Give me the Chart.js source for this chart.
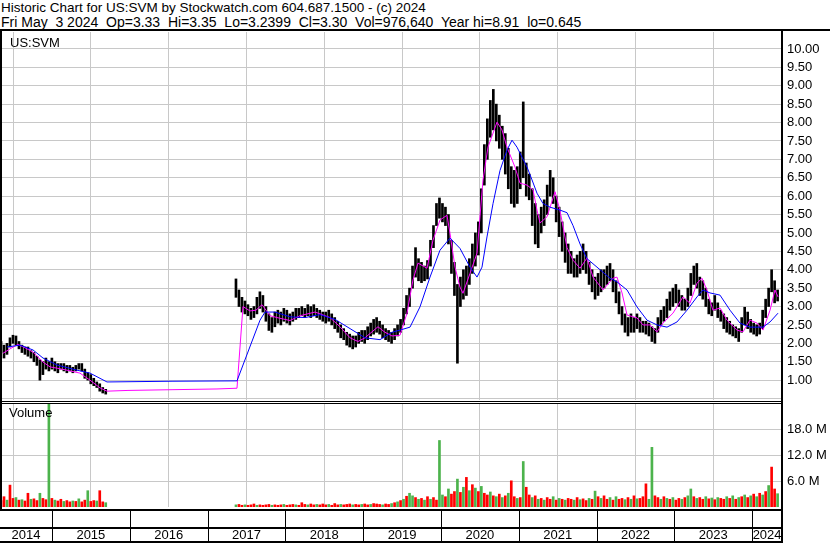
<!DOCTYPE html>
<html lang="en">
<head>
<meta charset="UTF-8">
<title>Historic Chart for US:SVM</title>
<script src="https://cdn.jsdelivr.net/npm/chart.js@4"></script>
<style>
    body { margin: 0; background: #fff; font-family: Arial, "Liberation Sans", sans-serif; color: #000; }
    #page { position: relative; width: 830px; height: 543px; overflow: hidden; }
    .hdr { position: absolute; left: 1px; font-size: 13.5px; line-height: 14px; white-space: pre; }
    .lbl { position: absolute; font-size: 13px; line-height: 13px; white-space: pre; }
    .rule { position: absolute; background: #000; }
    canvas { position: absolute; }
</style>
</head>
<body>
<div id="page">
    <div class="hdr" style="top:1px">Historic Chart for US:SVM by Stockwatch.com 604.687.1500 - (c) 2024</div>
    <div class="hdr" style="top:15px;font-size:14px">Fri May  3 2024  Op=3.33  Hi=3.35  Lo=3.2399  Cl=3.30  Vol=976,640  Year hi=8.91  lo=0.645</div>

    <canvas id="priceChart" width="830" height="368" style="left:0;top:32px"></canvas>
    <canvas id="volumeChart" width="830" height="139" style="left:0;top:404px"></canvas>

    <div class="rule" style="left:0;top:29px;width:830px;height:2px"></div>
    <div class="rule" style="left:0;top:31px;width:2px;height:478px"></div>
    <div class="rule" style="left:781px;top:31px;width:2px;height:512px"></div>
    <div class="rule" style="left:0;top:401px;width:782px;height:1px"></div>
    <div class="rule" style="left:0;top:403px;width:782px;height:1px"></div>

    <div class="lbl" style="left:10px;top:36px">US:SVM</div>
    <div class="lbl" style="left:9px;top:406px">Volume</div>
</div>

<script>
    // ---- axes ----
    const xStart = 2014.332;   // left edge of the plot (decimal year)
    const xEnd = 2024.383;     // right edge
    const yearBounds = [2015, 2016, 2017, 2018, 2019, 2020, 2021, 2022, 2023, 2024];
    const yearLabels = ['2014', '2015', '2016', '2017', '2018', '2019', '2020', '2021', '2022', '2023', '2024'];
    const priceTicks = [0.5, 1.0, 1.5, 2.0, 2.5, 3.0, 3.5, 4.0, 4.5, 5.0, 5.5, 6.0, 6.5, 7.0, 7.5, 8.0, 8.5, 9.0, 9.5, 10.0];
    const volumeTicks = [6, 12, 18];   // millions

    // ---- fortnightly bars: [low, high] ----
    const seg1Start = 2014.345;   // mid 2014 .. mid 2015
    const seg2Start = 2017.365;   // 2017 .. May 2024
    const barStep = 1 / 26;

    const seg1Range = [
        [1.75,2.05],[1.6,1.95],[1.7,2.0],[1.9,2.15],[2.0,2.22],[1.95,2.2],[1.85,2.05],[1.75,1.95],[1.7,1.9],[1.65,1.9],
        [1.6,1.8],[1.5,1.75],[1.4,1.65],[1.0,1.55],[1.15,1.5],[1.3,1.6],[1.25,1.5],[1.3,1.6],[1.25,1.5],[1.2,1.45],
        [1.3,1.45],[1.25,1.45],[1.2,1.4],[1.25,1.4],[1.2,1.35],[1.25,1.4],[1.3,1.45],[1.25,1.45],[1.05,1.3],[1.0,1.2],
        [0.9,1.15],[0.85,1.05],[0.8,0.95],[0.7,0.9],[0.65,0.8],[0.62,0.75]
    ];
    const seg2Range = [
        [3.25,3.75],[3.0,3.45],[2.85,3.25],[2.8,3.15],[2.75,3.05],[2.65,2.95],[2.7,3.0],[2.8,3.25],[2.95,3.4],[2.85,3.3],
        [2.6,3.0],[2.35,2.8],[2.3,2.7],[2.45,2.85],[2.55,2.9],[2.5,2.85],[2.6,2.95],[2.55,2.9],[2.5,2.8],[2.6,2.85],
        [2.65,2.95],[2.7,2.95],[2.75,3.0],[2.7,2.95],[2.75,3.05],[2.7,3.0],[2.75,3.05],[2.7,2.95],[2.65,2.9],[2.6,2.85],
        [2.55,2.85],[2.6,2.9],[2.5,2.8],[2.4,2.7],[2.3,2.6],[2.15,2.5],[2.1,2.4],[1.95,2.3],[1.9,2.25],[1.85,2.2],
        [1.9,2.2],[2.0,2.3],[2.05,2.35],[2.0,2.35],[2.1,2.45],[2.2,2.55],[2.25,2.65],[2.3,2.7],[2.25,2.6],[2.15,2.5],
        [2.1,2.4],[2.05,2.35],[2.0,2.3],[2.1,2.4],[2.2,2.5],[2.3,2.65],[2.5,2.95],[2.8,3.3],[3.0,3.5],[3.5,4.1],
        [3.8,4.6],[3.7,4.3],[3.65,4.2],[3.7,4.1],[3.75,4.25],[4.1,4.8],[4.6,5.2],[5.2,5.8],[5.4,5.95],[5.3,5.8],
        [5.2,5.7],[4.7,5.5],[3.9,4.8],[3.3,4.2],[1.46,3.6],[3.0,3.8],[3.2,4.0],[3.3,4.1],[3.6,4.3],[3.9,4.7],
        [4.1,5.0],[4.4,5.3],[5.0,6.2],[6.3,7.4],[7.0,8.1],[7.6,8.6],[7.8,8.9],[7.5,8.5],[7.3,8.2],[7.0,7.9],
        [6.6,7.7],[6.2,7.3],[5.8,6.8],[5.7,6.7],[5.8,6.8],[6.2,7.2],[6.5,8.56],[6.0,6.9],[5.9,6.6],[5.2,6.2],
        [4.7,5.8],[4.6,5.5],[5.0,5.7],[5.2,5.9],[5.5,6.3],[6.0,6.7],[5.8,6.5],[5.3,6.0],[4.9,5.7],[4.5,5.3],
        [4.2,5.0],[3.9,4.7],[3.9,4.5],[3.8,4.3],[3.8,4.4],[3.9,4.5],[4.0,4.7],[3.9,4.5],[3.6,4.2],[3.4,4.0],
        [3.2,3.8],[3.3,3.9],[3.4,4.0],[3.5,4.0],[3.6,4.1],[3.7,4.17],[3.4,4.0],[3.1,3.7],[2.8,3.4],[2.5,3.0],
        [2.3,2.8],[2.2,2.7],[2.3,2.8],[2.3,2.7],[2.4,2.8],[2.3,2.7],[2.3,2.6],[2.25,2.6],[2.2,2.55],[2.05,2.45],
        [2.0,2.4],[2.3,2.7],[2.5,2.9],[2.6,3.0],[2.7,3.2],[2.9,3.4],[3.0,3.5],[3.1,3.6],[3.0,3.45],[2.9,3.3],
        [2.9,3.2],[3.0,3.5],[3.3,3.9],[3.6,4.1],[3.5,4.17],[3.3,3.8],[3.2,3.7],[3.0,3.5],[2.8,3.2],[2.75,3.1],
        [2.9,3.3],[2.7,3.1],[2.6,2.9],[2.4,2.8],[2.3,2.7],[2.25,2.6],[2.2,2.5],[2.15,2.45],[2.05,2.4],[2.3,2.7],
        [2.5,2.98],[2.4,2.85],[2.3,2.65],[2.25,2.55],[2.2,2.5],[2.25,2.55],[2.4,2.9],[2.7,3.2],[3.0,3.5],[3.4,4.0],
        [3.1,3.7],[3.15,3.45]
    ];

    // ---- volume, millions of shares, one value per bar ----
    const seg1Volume = [
        1.5, 2.4, 1.6, 5.1, 2.0, 2.2, 1.6, 1.7, 1.4, 3.2, 1.8, 1.9, 1.5, 3.2, 2.0, 1.7, 30, 2.0,
        1.6, 1.4, 1.8, 1.3, 1.5, 1.2, 1.4, 1.3, 1.9, 1.2, 1.6, 3.8, 1.3, 1.5, 1.4, 3.8, 1.2, 1.0
    ];
    const seg2Volume = [
        0.5, 0.6, 0.4, 0.5, 0.4, 0.5, 0.7, 0.4, 0.5,
        0.4, 0.5, 0.6, 0.4, 0.5, 0.4, 0.5, 0.6, 0.4, 0.5, 0.6, 0.5, 0.4,
        1.0, 0.6, 0.5, 0.7, 0.5, 0.6, 0.5, 0.7, 0.5, 0.6, 0.4, 0.8, 0.5, 0.6,
        0.5, 0.6, 0.7, 0.5, 0.6, 0.5, 0.6, 0.7, 0.5, 0.6, 0.8, 0.7, 0.6, 0.5, 0.7, 0.6, 0.8, 1.0, 1.2,
        1.5, 1.8, 2.5, 3.2, 2.6, 2.2, 1.8, 2.0, 1.6, 2.4, 1.8, 2.2, 1.6, 15.5,
        2.8, 2.4, 4.2, 3.0, 3.6, 6.5, 3.4, 4.6, 6.9, 3.8, 5.2, 4.4, 3.6,
        4.8, 3.2, 2.8, 3.5, 2.6, 2.4, 3.0, 2.2, 2.6, 3.2, 6.1, 2.4, 2.0, 2.2,
        10.6, 4.6, 2.8, 2.2, 2.6, 1.8, 2.0, 1.6, 2.2, 1.8, 2.4, 1.6, 2.0, 1.8,
        1.6, 2.0, 1.8, 1.6, 2.2, 1.7, 1.9, 1.5, 2.0, 1.8, 3.7, 2.4,
        2.0, 2.6, 1.8, 2.2, 1.6, 2.4, 1.8, 2.0, 1.7, 2.2, 1.8, 2.6, 1.9, 2.0, 2.4, 5.4, 1.8,
        13.9, 2.6, 2.2, 1.8, 2.4, 2.0, 1.8, 2.2, 1.6, 2.0, 1.8, 2.2, 2.6,
        4.2, 2.4, 2.0, 2.2, 1.8, 2.4, 1.9, 2.1, 1.7, 2.2, 2.0, 1.8, 2.4,
        2.0, 2.6, 1.8, 2.2, 2.4, 2.8, 2.2, 2.6, 3.0, 2.4, 3.2, 2.8, 3.6, 5.0, 9.3, 4.2, 3.1
    ];
    // volume bar colour read per bar: g = up day, r = down day
    const seg1Dir = 'rrgrrg' + 'rgrrgr' + 'rgrrgr' + 'grrgrr' + 'grgrrg' + 'rrgrrg';
    const seg2Dir =
        'grrgrrrgrr' + 'rrgrrrgrrr' + 'grrrgrrgrr' + 'rgrrrgrrrg' + 'rrgrrgrrrg' +
        'rrgrgrgrgg' + 'rgrgrgrrgg' + 'rgrrgrgrgr' + 'grgrrgrgrg' + 'rgrrgrgrrg' +
        'rgrgrrgrgr' + 'grrgrgrrgr' + 'grgrrgrgrr' + 'grgrgrrrgg' + 'rrgrgrgrrg' +
        'rggrgrrgrg' + 'rgrrgrgrgr' + 'grgrgrgrgr' + 'rg';

    // ---- moving averages (short = magenta, long = blue) ----
    const shortMaDates = [
        2014.371,2014.461,2014.563,2014.653,2014.756,2014.885,2014.975,2015.077,2015.193,2015.360,
        2015.489,2015.617,2015.707,2015.977,2016.543,2017.121,2017.378,2017.455,2017.545,2017.622,
        2017.700,2017.802,2017.931,2018.059,2018.188,2018.381,2018.573,2018.702,2018.831,2018.933,
        2019.023,2019.190,2019.280,2019.370,2019.473,2019.563,2019.640,2019.705,2019.820,2019.897,
        2019.987,2020.077,2020.116,2020.180,2020.244,2020.283,2020.373,2020.463,2020.540,2020.604,
        2020.720,2020.784,2020.848,2020.951,2021.016,2021.106,2021.183,2021.234,2021.273,2021.363,
        2021.466,2021.530,2021.620,2021.697,2021.787,2021.877,2021.954,2022.082,2022.211,2022.262,
        2022.327,2022.391,2022.519,2022.596,2022.686,2022.776,2022.853,2022.982,2023.110,2023.200,
        2023.290,2023.354,2023.418,2023.495,2023.586,2023.676,2023.804,2023.881,2023.971,2024.062,
        2024.139,2024.229,2024.293,2024.332
    ];
    const shortMaValues = [
        1.73,1.85,1.97,1.88,1.76,1.49,1.36,1.32,1.27,1.19,
        1.0,0.79,0.70,0.72,0.74,0.76,0.78,3.0,2.88,2.9,
        3.05,2.75,2.68,2.62,2.75,2.85,2.7,2.45,2.15,2.05,
        2.15,2.45,2.3,2.2,2.22,2.82,3.72,4.18,4.04,4.8,
        5.35,5.48,4.99,4.07,3.53,3.36,3.9,4.45,6.44,7.33,
        8.01,7.8,7.33,6.79,6.35,6.3,6.17,5.62,5.27,5.44,
        6.12,5.6,4.6,4.26,4.04,4.32,3.8,3.45,3.77,3.8,
        3.37,2.77,2.69,2.5,2.5,2.31,2.55,2.82,3.26,3.09,
        3.63,3.77,3.45,2.9,2.96,2.63,2.36,2.31,2.63,2.55,
        2.36,2.9,3.45,3.26
    ];
    const longMaDates = [
        2014.422,2014.589,2014.756,2014.885,2015.065,2015.322,2015.489,2015.707,2016.543,2017.378,
        2017.674,2017.738,2017.867,2018.059,2018.252,2018.445,2018.638,2018.831,2019.023,2019.216,
        2019.370,2019.473,2019.602,2019.730,2019.859,2019.987,2020.116,2020.244,2020.373,2020.463,
        2020.527,2020.591,2020.669,2020.759,2020.848,2020.913,2020.977,2021.041,2021.106,2021.170,
        2021.234,2021.311,2021.401,2021.530,2021.620,2021.697,2021.787,2021.877,2022.044,2022.172,
        2022.262,2022.391,2022.519,2022.648,2022.776,2022.905,2023.033,2023.162,2023.290,2023.367,
        2023.457,2023.586,2023.715,2023.843,2023.971,2024.139,2024.229,2024.332
    ];
    const longMaValues = [
        1.9,1.95,1.82,1.6,1.41,1.27,1.19,0.95,0.97,0.98,
        2.63,2.85,2.85,2.72,2.7,2.78,2.65,2.4,2.15,2.1,
        2.3,2.36,2.44,2.99,3.8,4.53,4.86,4.58,4.07,3.8,
        4.07,4.89,5.8,6.7,7.25,7.52,7.33,7.06,6.79,6.44,
        6.08,5.8,5.7,5.62,5.55,5.2,4.7,4.3,4.0,3.77,
        3.67,3.45,2.99,2.63,2.5,2.44,2.58,2.9,3.26,3.45,
        3.37,3.31,2.9,2.55,2.44,2.44,2.58,2.82
    ];

    // ---- build ----
    const barDates = seg1Range.map((_, i) => seg1Start + i * barStep)
        .concat(seg2Range.map((_, i) => seg2Start + i * barStep));
    const priceRange = seg1Range.concat(seg2Range);
    const volume = seg1Volume.concat(seg2Volume);
    const volDir = (seg1Dir + seg2Dir).split('');

    const upColor = '#4cb34c';
    const downColor = '#ff0000';
    const volColors = volDir.map(c => c === 'g' ? upColor : downColor);

    Chart.defaults.font.family = 'Arial, "Liberation Sans", sans-serif';
    Chart.defaults.font.size = 13;
    Chart.defaults.color = '#000';

    const gridGrey = '#c8c8c8';

    const xAxis = {
        type: 'linear',
        min: xStart,
        max: xEnd,
        offset: false,
        afterBuildTicks: s => { s.ticks = yearBounds.map(v => ({ value: v })); },
        afterFit: s => { s.height = 0; s.paddingLeft = 0; s.paddingRight = 0; },
        ticks: { display: false, autoSkip: false },
        grid: { color: gridGrey, drawTicks: false },
        border: { display: false }
    };

    // right-hand value axis with a fixed 48px column
    function rightAxis(min, max, ticks, fmt) {
        return {
            position: 'right',
            min: min,
            max: max,
            afterBuildTicks: s => { s.ticks = ticks.map(v => ({ value: v })); },
            afterFit: s => { s.width = 48; s.paddingTop = 0; s.paddingBottom = 0; },
            ticks: { padding: 5, autoSkip: false, callback: fmt },
            grid: { color: gridGrey, drawTicks: false },
            border: { display: false }
        };
    }

    new Chart(document.getElementById('priceChart'), {
        type: 'bar',
        data: {
            datasets: [{
                label: 'Range',
                data: barDates.map((d, i) => ({ x: d, y: priceRange[i] })),
                backgroundColor: '#000',
                borderWidth: 0,
                barThickness: 2,
                order: 3
            }, {
                type: 'line',
                label: 'Short MA',
                data: shortMaDates.map((d, i) => ({ x: d, y: shortMaValues[i] })),
                borderColor: '#ff00ff',
                borderWidth: 1,
                pointRadius: 0,
                tension: 0,
                order: 2
            }, {
                type: 'line',
                label: 'Long MA',
                data: longMaDates.map((d, i) => ({ x: d, y: longMaValues[i] })),
                borderColor: '#0000ff',
                borderWidth: 1,
                pointRadius: 0,
                tension: 0,
                order: 1
            }]
        },
        options: {
            responsive: false,
            animation: false,
            layout: { padding: 0, autoPadding: false },
            plugins: { legend: { display: false }, tooltip: { enabled: false } },
            scales: {
                x: xAxis,
                y: rightAxis(0.46, 10.46, priceTicks, v => v < 1 ? '' : v.toFixed(2))
            }
        }
    });

    // year strip under the volume panel
    const yearStrip = {
        id: 'yearStrip',
        afterDraw(chart) {
            const { ctx, chartArea } = chart;
            const x = chart.scales.x;
            const y0 = chartArea.bottom;
            const w = chartArea.right;
            ctx.save();
            ctx.fillStyle = '#000';
            ctx.fillRect(0, y0 + 2, w, 2);
            ctx.fillRect(0, y0 + 20, w, 2);
            ctx.fillRect(0, y0 + 34, w, 2);
            yearBounds.forEach(v => {
                ctx.fillRect(Math.round(x.getPixelForValue(v)), y0 + 4, 1, 30);
            });
            ctx.font = '13px Arial, "Liberation Sans", sans-serif';
            ctx.textAlign = 'center';
            ctx.textBaseline = 'middle';
            const edges = [xStart].concat(yearBounds, [xEnd]);
            yearLabels.forEach((lab, i) => {
                const a = x.getPixelForValue(edges[i]);
                const b = x.getPixelForValue(edges[i + 1]);
                ctx.fillText(lab, (a + b) / 2, y0 + 28);
            });
            ctx.restore();
        }
    };

    new Chart(document.getElementById('volumeChart'), {
        type: 'bar',
        data: {
            datasets: [{
                label: 'Volume',
                data: barDates.map((d, i) => ({ x: d, y: volume[i] })),
                backgroundColor: volColors,
                borderWidth: 0,
                barThickness: 2
            }]
        },
        options: {
            responsive: false,
            animation: false,
            layout: { padding: { top: 0, left: 0, right: 0, bottom: 36 }, autoPadding: false },
            plugins: { legend: { display: false }, tooltip: { enabled: false } },
            scales: {
                x: xAxis,
                y: rightAxis(0, 24, volumeTicks, v => v.toFixed(1) + ' M')
            }
        },
        plugins: [yearStrip]
    });
</script>
</body>
</html>
